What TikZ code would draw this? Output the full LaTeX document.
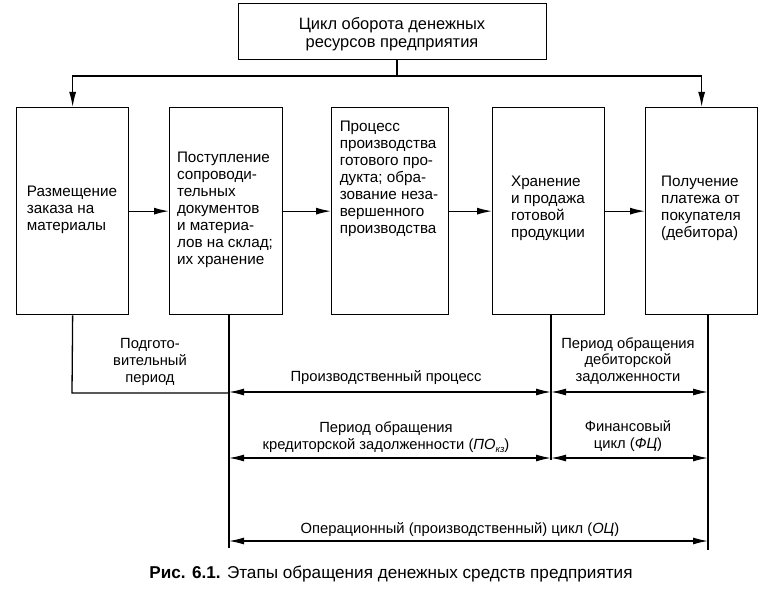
\documentclass[tikz,border=0pt]{standalone}
\usepackage{fontspec}
\setmainfont{Liberation Sans}
\usetikzlibrary{arrows.meta}
\begin{document}
\begin{tikzpicture}[x=1bp,y=-1bp,
  box/.style={draw, line width=1.3bp, inner sep=0pt, anchor=north west, minimum height=207bp},
  txt/.style={align=left, font=\fontsize{15.3}{17}\selectfont, inner sep=0pt},
  ctxt/.style={align=center, font=\fontsize{14.8}{17}\selectfont, inner sep=0pt},
  ln/.style={line width=1.3bp},
  arr/.style={ln, -{Latex[length=15bp,width=7bp]}},
  darr/.style={ln, {Latex[length=15bp,width=7bp]}-{Latex[length=15bp,width=7bp]}},
]
\useasboundingbox (0,0) rectangle (777,589);

% top box
\node[box, minimum width=308bp, minimum height=56bp] (top) at (238,3) {};
\node[ctxt, font=\fontsize{16.5}{18}\selectfont] (toptext) at (392,34) {Цикл оборота денежных\\ресурсов предприятия};

% stage boxes
\node[box, minimum width=112bp] (b1) at (16,107) {};
\node[box, minimum width=113bp] (b2) at (169,107) {};
\node[box, minimum width=117bp] (b3) at (331,107) {};
\node[box, minimum width=112bp] (b4) at (492,107) {};
\node[box, minimum width=112bp] (b5) at (645,107) {};

\node[txt] (t1) at (72,210) {Размещение\\заказа на\\материалы};
\node[txt] (t2) at (225,210) {Поступление\\сопроводи-\\тельных\\документов\\и материа-\\лов на склад;\\их хранение};
\node[txt] (t3) at (389,179) {Процесс\\производства\\готового про-\\дукта; обра-\\зование неза-\\вершенного\\производства};
\node[txt] (t4) at (548,208) {Хранение\\и продажа\\готовой\\продукции};
\node[txt] (t5) at (701,208) {Получение\\платежа от\\покупателя\\(дебитора)};

% top connectors
\coordinate (c1) at (397,76);
\draw[ln] (top.south -| c1) -- (c1);
\draw[arr] (c1) -| (b1.north);
\draw[arr] (c1) -| (b5.north);

% stage arrows
\draw[arr] (b1.east) -- (b2.west);
\draw[arr] (b2.east) -- (b3.west);
\draw[arr] (b3.east) -- (b4.west);
\draw[arr] (b4.east) -- (b5.west);

% period lines
\coordinate (p0) at (72,393);
\coordinate (pA) at (229,548);
\coordinate (pB) at (551,460);
\coordinate (pC) at (708,550);
\coordinate (r1) at (0,392);
\coordinate (r2) at (0,458);
\coordinate (r3) at (0,541);

\draw[ln] (b1.south) -- (p0) -- (p0 -| pA);
\draw[ln] (b2.south -| pA) -- (pA);
\draw[ln] (b4.south -| pB) -- (pB);
\draw[ln] (b5.south -| pC) -- (pC);

\draw[darr] (r1 -| pA) -- (r1 -| pB);
\draw[darr] (r1 -| pB) -- (r1 -| pC);
\draw[darr] (r2 -| pA) -- (r2 -| pB);
\draw[darr] (r2 -| pB) -- (r2 -| pC);
\draw[darr] (r3 -| pA) -- (r3 -| pC);

% labels
\node[ctxt] (l1) at (150,362) {Подгото-\\вительный\\период};
\node[ctxt] (l2) at (386,378) {Производственный процесс};
\node[ctxt] (l3) at (628,361) {Период обращения\\дебиторской\\задолженности};
\node[ctxt] (l4) at (386,437) {Период обращения\\кредиторской задолженности (\textit{ПО}\raisebox{-0.35ex}{\fontsize{9.5}{9.5}\selectfont\itshape кз})};
\node[ctxt] (l5) at (628,436) {Финансовый\\цикл (\textit{ФЦ})};
\node[ctxt] (l6) at (460,530) {Операционный (производственный) цикл (\textit{ОЦ})};

% caption
\node[inner sep=0pt, font=\fontsize{17.2}{20}\selectfont] (cap) at (391,574) {\textbf{Рис. 6.1.} Этапы обращения денежных средств предприятия};
\end{tikzpicture}
\end{document}
